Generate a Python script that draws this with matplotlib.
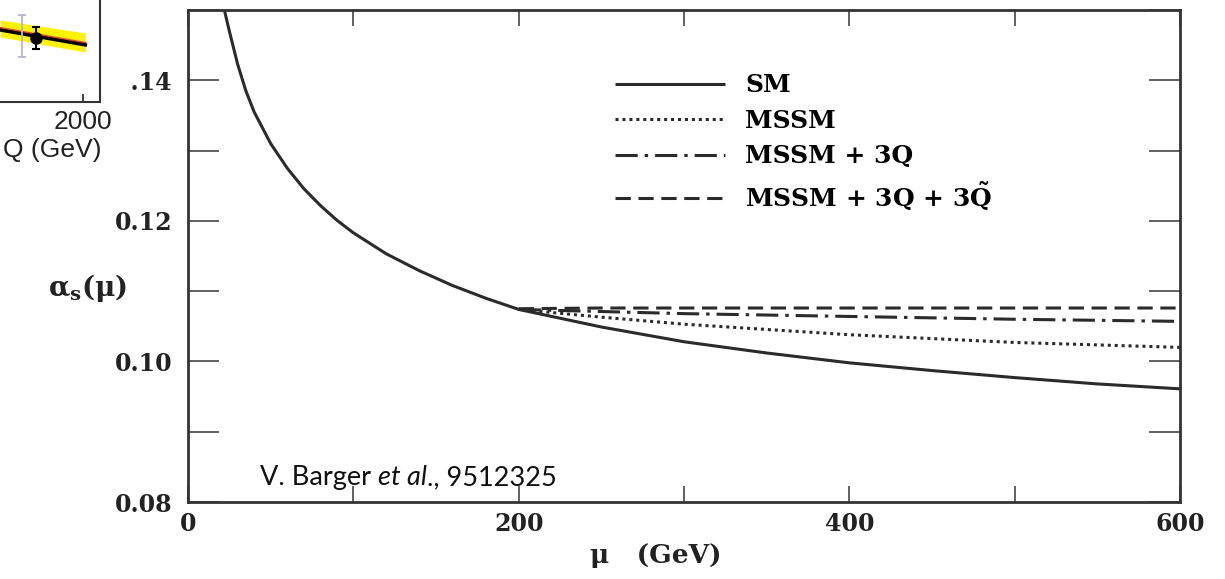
import numpy as np
import matplotlib.pyplot as plt
from matplotlib.patches import Rectangle
from matplotlib.ticker import MultipleLocator, FormatStrFormatter

# SM running coupling
sm_mu = [22, 25, 30, 35, 40, 50, 60, 70, 80, 90, 100, 120, 140, 160, 180,
         200, 250, 300, 350, 400, 450, 500, 550, 600]
sm_alpha = [0.1500, 0.1470, 0.1423, 0.1385, 0.1355, 0.1310, 0.1275, 0.1246,
            0.1222, 0.1201, 0.1183, 0.1153, 0.1129, 0.1108, 0.1090,
            0.1074, 0.1049, 0.1028, 0.1012, 0.0998, 0.0987, 0.0977, 0.0968, 0.0961]

# the other scenarios split off at 200 GeV
bsm_mu = [200, 250, 300, 400, 500, 600]
mssm_alpha = [0.1074, 0.1063, 0.1053, 0.1038, 0.1027, 0.1020]
mssm3q_alpha = [0.1074, 0.1071, 0.1068, 0.1064, 0.1060, 0.1057]
mssm3q3sq_alpha = [0.1075, 0.1076, 0.1076, 0.1076, 0.1076, 0.1076]

labels = ["SM", "MSSM", "MSSM + 3Q", r"MSSM + 3Q + 3$\mathbf{\tilde{Q}}$"]

# corner of a neighbouring figure pasted over the top left
inset_q = [1260, 2020]
band_lo = [0.0830, 0.0800]
band_hi = [0.0864, 0.0838]
red_fit = [0.0848, 0.0818]
black_fit = [0.0844, 0.0814]
pt_q = [1455, 1580]
pt_alpha = [0.0832, 0.0828]
pt_err = [0.0042, 0.0022]

W, H = 1225, 579
ink = "#2b2b2b"
plt.rcParams['font.family'] = 'DejaVu Serif'
plt.rcParams['mathtext.fontset'] = 'dejavuserif'
plt.rcParams['lines.scale_dashes'] = False

fig = plt.figure(figsize=(W / 100, H / 100), dpi=100)
ax = fig.add_axes([188 / W, 1 - 502 / H, 992 / W, 492 / H])

lw = 2.2
l1, = ax.plot(sm_mu, sm_alpha, color=ink, lw=lw, solid_capstyle='butt')
l2, = ax.plot(bsm_mu, mssm_alpha, color=ink, lw=lw, dashes=(2.2, 2.8))
l3, = ax.plot(bsm_mu, mssm3q_alpha, color=ink, lw=lw, dashes=(16, 5, 2.5, 5))
l4, = ax.plot(bsm_mu, mssm3q3sq_alpha, color=ink, lw=lw, dashes=(11, 5.5))

ax.set_xlim(0, 600)
ax.set_ylim(0.08, 0.15)
ax.xaxis.set_major_locator(MultipleLocator(200))
ax.xaxis.set_minor_locator(MultipleLocator(100))
ax.yaxis.set_major_locator(MultipleLocator(0.02))
ax.yaxis.set_minor_locator(MultipleLocator(0.01))
ax.yaxis.set_major_formatter(FormatStrFormatter('%.2f'))

for s in ax.spines.values():
    s.set_linewidth(2.0)
    s.set_color('#333333')
ax.tick_params(axis='y', which='both', direction='in', length=22, width=1.3,
               color='#555555', left=True, right=True, labelsize=17, pad=11,
               labelcolor='#222222')
ax.tick_params(axis='x', which='both', direction='in', length=11.5, width=1.3,
               color='#555555', bottom=True, top=True, labelsize=17, pad=7,
               labelcolor='#222222')
for t in ax.get_xticklabels() + ax.get_yticklabels():
    t.set_fontweight('bold')

ax.set_xlabel("μ   (GeV)", fontsize=19, fontweight='bold', color='#222222')
ax.xaxis.set_label_coords(0.472, -0.108)
ax.xaxis.label.set_va('center')
ax.set_ylabel("α$_\\mathregular{s}$(μ)", fontsize=20, fontweight='bold',
              rotation=0, color='#222222')
ax.yaxis.set_label_coords(-0.0615, 0.435)
ax.yaxis.label.set_ha('right')
ax.yaxis.label.set_va('center')

ax.legend([l1, l2, l3, l4], labels, loc='upper left',
          bbox_to_anchor=(0.4304, 0.871), frameon=False, borderpad=0,
          borderaxespad=0, handlelength=4.4, handletextpad=0.8,
          labelspacing=0.46, prop={'family': 'DejaVu Serif', 'weight': 'bold', 'size': 18})

# citation, with "et al" in italics
t1 = ax.text(0.0726, 0.049, "V. Barger", transform=ax.transAxes, ha='left',
             va='center', fontsize=19.5, family='Lato', color='#111111')
t2 = ax.annotate("et al", xy=(1, 0), xycoords=t1, xytext=(5, 0),
                 textcoords='offset points', ha='left', va='bottom',
                 fontsize=19.5, family='Lato', style='italic', color='#111111')
ax.annotate("., 9512325", xy=(1, 0), xycoords=t2, ha='left', va='bottom',
            fontsize=19.5, family='Lato', color='#111111')

# pasted corner: white backing, then the small axes
fig.add_artist(Rectangle((0, 1 - 170 / H), 132 / W, 170 / H,
                         transform=fig.transFigure, facecolor='white',
                         edgecolor='none', zorder=5))
ins = fig.add_axes([-141 / W, 1 - 102 / H, 241 / W, 200 / H], zorder=6)
ins.set_xlim(0, 2150)
ins.set_ylim(0.07, 0.11)
ins.fill_between(inset_q, band_lo, band_hi, color='#fff200', lw=0)
ins.plot(inset_q, red_fit, color='#e0463a', lw=1.6)
ins.plot(inset_q, black_fit, color='black', lw=2.4)
ins.errorbar(pt_q[0], pt_alpha[0], yerr=pt_err[0], color='#b8b4d0', lw=1.3,
             capsize=3, capthick=1.3, fmt='none')
ins.errorbar(pt_q[1], pt_alpha[1], yerr=pt_err[1], color='black', lw=1.5,
             capsize=3, capthick=1.5, fmt='o', ms=8)
ins.set_xticks([1000, 2000])
ins.set_yticks([])
ins.tick_params(axis='x', direction='in', length=6, width=1.2, labelsize=19,
                pad=6, colors='#222222')
for t in ins.get_xticklabels():
    t.set_family('Liberation Sans')
for s in ins.spines.values():
    s.set_linewidth(1.5)
    s.set_color('#333333')
ins.set_xlabel("Q (GeV)", fontsize=19, family='Liberation Sans', color='#222222')
ins.xaxis.set_label_coords(0.80, -0.24)
ins.xaxis.label.set_va('center')

fig.savefig("out.png", dpi=100)
